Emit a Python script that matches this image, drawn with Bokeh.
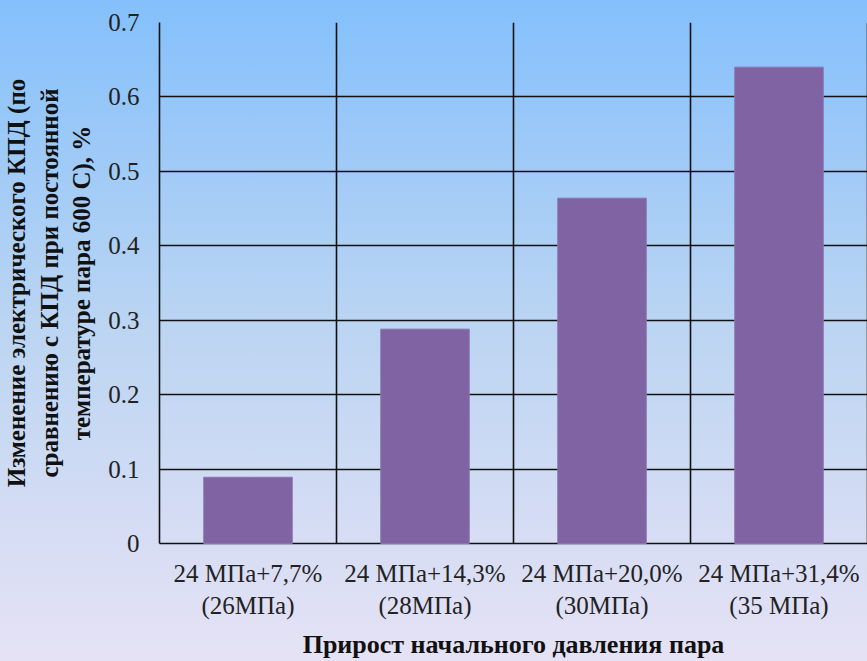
from bokeh.plotting import figure
from bokeh.models import FactorRange, FixedTicker, Span, ColumnDataSource
from bokeh.embed import file_html
from bokeh.resources import INLINE

# Efficiency gain vs. initial steam pressure increase
categories = [
    "24 МПа+7,7%\n(26МПа)",
    "24 МПа+14,3%\n(28МПа)",
    "24 МПа+20,0%\n(30МПа)",
    "24 МПа+31,4%\n(35 МПа)",
]
efficiency_change = [0.089, 0.288, 0.464, 0.640]
y_ticks = [0.0, 0.1, 0.2, 0.3, 0.4, 0.5, 0.6, 0.7]
y_tick_labels = ["0", "0.1", "0.2", "0.3", "0.4", "0.5", "0.6", "0.7"]

FONT = "Liberation Serif"

src = ColumnDataSource(dict(cat=categories, val=efficiency_change))

p = figure(
    width=867, height=661,
    x_range=FactorRange(*categories, range_padding=0),
    y_range=(0, 0.7),
    output_backend="svg", toolbar_location=None,
    min_border_left=157, min_border_right=0,
    min_border_top=22, min_border_bottom=117,
)
p.styles = {"background": "linear-gradient(to bottom, #84C0FC 0%, #BCD5F2 50%, #E6E2F5 100%)"}
p.background_fill_alpha = 0
p.border_fill_alpha = 0
p.outline_line_color = None

p.vbar(x="cat", top="val", width=0.5, source=src,
       fill_color="#7F63A2", line_color="#8C74AE", line_width=1, level="overlay")

# horizontal grid
p.yaxis.ticker = FixedTicker(ticks=y_ticks)
p.yaxis.major_label_overrides = {t: l for t, l in zip(y_ticks, y_tick_labels)}
p.ygrid.ticker = FixedTicker(ticks=y_ticks)
p.ygrid.grid_line_color = "#111111"
p.ygrid.grid_line_width = 1.6
p.xgrid.grid_line_color = None

# vertical separators between categories
for loc in range(1, len(categories) + 1):
    p.add_layout(Span(location=loc, dimension="height",
                      line_color="#111111", line_width=1.6))

p.yaxis.axis_line_color = "#111111"
p.yaxis.axis_line_width = 1.6
p.yaxis.major_tick_line_color = None
p.yaxis.minor_tick_line_color = None
p.xaxis.axis_line_color = "#111111"
p.xaxis.axis_line_width = 1.6
p.xaxis.major_tick_line_color = None

p.yaxis.major_label_text_font = FONT
p.yaxis.major_label_text_font_size = "25px"
p.yaxis.major_label_text_color = "#222222"
p.yaxis.major_label_standoff = 14

p.xaxis.major_label_text_font = FONT
p.xaxis.major_label_text_font_size = "25px"
p.xaxis.major_label_text_color = "#222222"
p.xaxis.major_label_standoff = 10

p.yaxis.axis_label = ("Изменение электрического КПД (по\n"
                      "сравнению с КПД при постоянной\n"
                      "температуре пара 600 С), %")
p.yaxis.axis_label_text_font = FONT
p.yaxis.axis_label_text_font_style = "bold"
p.yaxis.axis_label_text_font_size = "25px"
p.yaxis.axis_label_text_color = "#111111"
p.yaxis.axis_label_standoff = 10
p.yaxis.axis_label_text_align = "center"

p.xaxis.axis_label = "Прирост начального давления пара"
p.xaxis.axis_label_text_font = FONT
p.xaxis.axis_label_text_font_style = "bold"
p.xaxis.axis_label_text_font_size = "26px"
p.xaxis.axis_label_text_color = "#111111"
p.xaxis.axis_label_standoff = 8

open("out.html", "w").write(file_html(p, INLINE))
